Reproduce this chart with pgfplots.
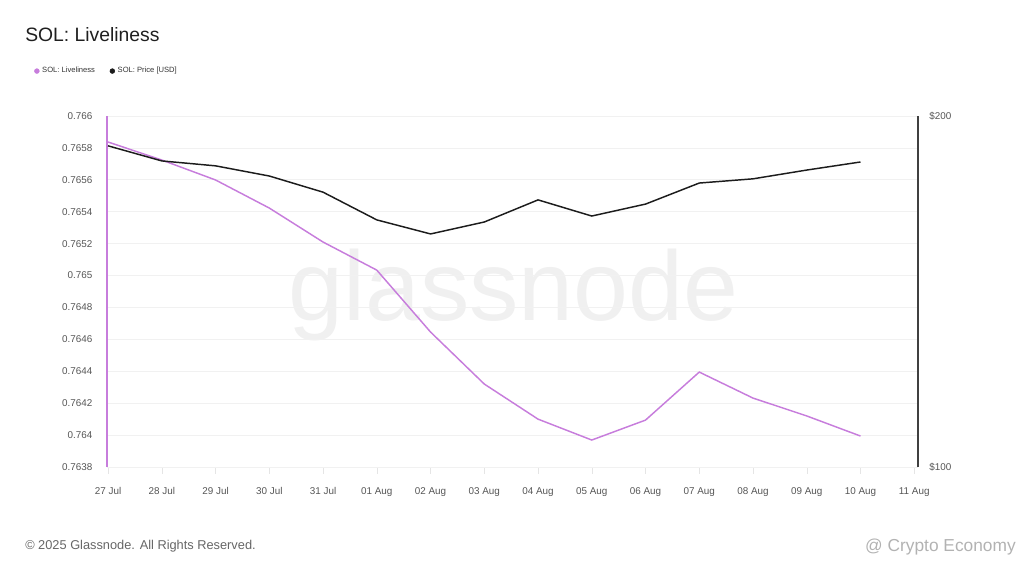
\documentclass[border=0pt]{standalone}
\usepackage{fontspec}
\setmainfont{Liberation Sans}
\usepackage{pgfplots}
\pgfplotsset{compat=1.18}
\definecolor{live}{HTML}{C77DDC}
\definecolor{price}{HTML}{1C1C1C}
\definecolor{tickc}{HTML}{555555}
\definecolor{gridc}{HTML}{F1F1F1}
\begin{document}
\begin{tikzpicture}
\path[use as bounding box] (0,0) rectangle (768pt,432pt);
\node[anchor=center, text=black!6, font=\fontsize{74}{74}\selectfont] at (385pt,211pt) {glassnode};
\node[anchor=west, inner sep=0pt, text=black!88, font=\fontsize{14.5}{16}\selectfont] at (18.75pt,405.75pt) {SOL: Liveliness};
\node[anchor=west, inner sep=0pt, text=black!60, font=\fontsize{9.6}{11}\selectfont] at (18.75pt,22.5pt) {© 2025 Glassnode. All Rights Reserved.};
\node[anchor=east, inner sep=0pt, text=black!30, font=\fontsize{13}{14}\selectfont] at (762pt,21.5pt) {@ Crypto Economy};
\begin{axis}[
  at={(80.25pt,81.75pt)}, anchor=south west, scale only axis,
  width=608.25pt, height=263.25pt,
  xmin=-0.02, xmax=15.07, ymin=0.7638, ymax=0.766,
  xtick={0,...,15},
  xticklabels={27 Jul,28 Jul,29 Jul,30 Jul,31 Jul,01 Aug,02 Aug,03 Aug,04 Aug,05 Aug,06 Aug,07 Aug,08 Aug,09 Aug,10 Aug,11 Aug},
  ytick={0.7638,0.764,0.7642,0.7644,0.7646,0.7648,0.765,0.7652,0.7654,0.7656,0.7658,0.766},
  yticklabels={0.7638,0.764,0.7642,0.7644,0.7646,0.7648,0.765,0.7652,0.7654,0.7656,0.7658,0.766},
  axis x line*=bottom, axis y line*=left,
  axis line style={-},
  x axis line style={draw=gridc},
  y axis line style={draw=live, line width=0.8pt},
  ymajorgrids, grid style={draw=gridc, line width=0.6pt},
  tick align=outside, major tick length=5pt,
  xtick style={draw=black!10},
  ytick style={draw=none},
  ticklabel style={text=tickc, font=\fontsize{7.4}{8}\selectfont},
  /pgf/number format/assume math mode=true,
  xticklabel style={yshift=-3.5pt, text height=1.6ex, text depth=0.3ex},
  yticklabel style={xshift=-2.5pt},
  legend style={at={(axis description cs:-0.095,1.128)}, anchor=west, draw=none, fill=none,
    font=\fontsize{5.7}{6}\selectfont, text=black!80, legend columns=2,
    /tikz/every even column/.append style={column sep=9pt}},
  legend cell align=left,
]
\addplot[live, line width=1.1pt, forget plot] coordinates {
(0,0.765837) (1,0.765724) (2,0.765599) (3,0.765423) (4,0.765210)
(5,0.765034) (6,0.764646) (7,0.764320) (8,0.764100) (9,0.763969)
(10,0.764094) (11,0.764395) (12,0.764232) (13,0.764120) (14,0.763994)
};
\addlegendimage{legend image code/.code={\fill[live] (0.25cm,0pt) circle (1.8pt);}}
\addlegendentry{SOL: Liveliness}
\addlegendimage{legend image code/.code={\fill[price] (0.25cm,0pt) circle (1.8pt);}}
\addlegendentry{SOL: Price [USD]}
\end{axis}
\begin{axis}[
  at={(80.25pt,81.75pt)}, anchor=south west, scale only axis,
  width=608.25pt, height=263.25pt,
  xmin=-0.02, xmax=15.07, ymin=100, ymax=200,
  axis x line=none, axis y line*=right,
  axis line style={-},
  y axis line style={draw=black!75, line width=0.8pt},
  ytick={100,200}, yticklabels={\$100,\$200},
  ytick style={draw=none},
  ticklabel style={text=tickc, font=\fontsize{7.4}{8}\selectfont},
  /pgf/number format/assume math mode=true,
  yticklabel style={xshift=5pt},
]
\addplot[price, line width=1.1pt] coordinates {
(0,191.5) (1,187.2) (2,185.8) (3,182.9) (4,178.3)
(5,170.4) (6,166.4) (7,169.8) (8,176.1) (9,171.5)
(10,174.9) (11,180.9) (12,182.1) (13,184.6) (14,186.9)
};
\end{axis}
\end{tikzpicture}
\end{document}
